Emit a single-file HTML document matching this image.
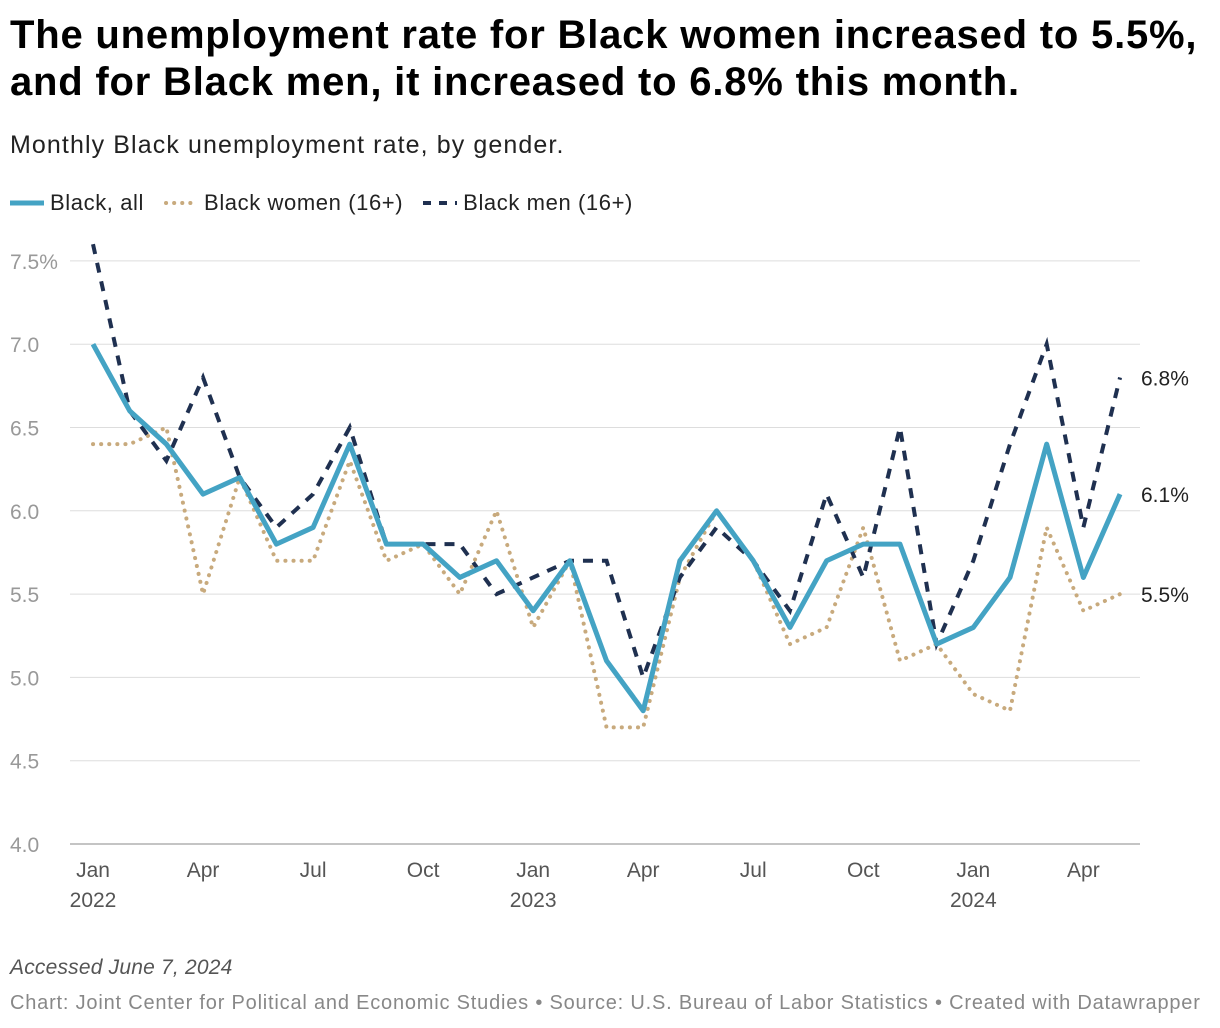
<!DOCTYPE html>
<html><head><meta charset="utf-8"><style>
body{margin:0;background:#fff;font-family:"Liberation Sans",sans-serif;width:1220px;height:1028px;overflow:hidden;position:relative}
h1{position:absolute;left:10px;top:12px;margin:0;font-size:40px;line-height:47px;font-weight:bold;color:#000;letter-spacing:0.8px;white-space:nowrap}
.sub{position:absolute;left:10px;top:131px;font-size:25px;color:#222;letter-spacing:1.1px}
.legend{position:absolute;left:10px;top:190px;font-size:22px;color:#222;display:flex;gap:20px;align-items:center;letter-spacing:0.6px}
.legend span{display:flex;align-items:center;gap:6px}
.foot1{position:absolute;left:10px;top:956px;font-size:21px;font-style:italic;color:#555;letter-spacing:0.2px}
.foot2{position:absolute;left:10px;top:992px;font-size:20px;color:#888;letter-spacing:0.8px;white-space:nowrap}
</style></head><body>
<h1>The unemployment rate for Black women increased to 5.5%,<br>and for Black men, it increased to 6.8% this month.</h1>
<div class="sub">Monthly Black unemployment rate, by gender.</div>
<div class="legend">
<span><svg width="34" height="8"><line x1="0" y1="4" x2="34" y2="4" stroke="#44a3c4" stroke-width="5"/></svg>Black, all</span>
<span><svg width="34" height="8"><line x1="2" y1="4" x2="34" y2="4" stroke="#c8aa7d" stroke-width="4" stroke-dasharray="0.1 8" stroke-linecap="round"/></svg>Black women (16+)</span>
<span><svg width="34" height="8"><line x1="0" y1="4" x2="34" y2="4" stroke="#1f3050" stroke-width="4" stroke-dasharray="8 8"/></svg>Black men (16+)</span>
</div>
<svg id="chart" width="1220" height="1028" style="position:absolute;left:0;top:0"></svg>
<div class="foot1">Accessed June 7, 2024</div>
<div class="foot2">Chart: Joint Center for Political and Economic Studies • Source: U.S. Bureau of Labor Statistics • Created with Datawrapper</div>
<script>
const yTicks=[4.0,4.5,5.0,5.5,6.0,6.5,7.0,7.5];
const xTickMonths=[0,3,6,9,12,15,18,21,24,27];
const xTickLabels=["Jan","Apr","Jul","Oct","Jan","Apr","Jul","Oct","Jan","Apr"];
const xTickYears={0:"2022",12:"2023",24:"2024"};
const allRate=[7.0,6.6,6.4,6.1,6.2,5.8,5.9,6.4,5.8,5.8,5.6,5.7,5.4,5.7,5.1,4.8,5.7,6.0,5.7,5.3,5.7,5.8,5.8,5.2,5.3,5.6,6.4,5.6,6.1];
const womenRate=[6.4,6.4,6.5,5.5,6.2,5.7,5.7,6.3,5.7,5.8,5.5,6.0,5.3,5.7,4.7,4.7,5.6,6.0,5.7,5.2,5.3,5.9,5.1,5.2,4.9,4.8,5.9,5.4,5.5];
const menRate=[7.6,6.6,6.3,6.8,6.2,5.9,6.1,6.5,5.8,5.8,5.8,5.5,5.6,5.7,5.7,5.0,5.6,5.9,5.7,5.4,6.1,5.6,6.5,5.2,5.7,6.4,7.0,5.9,6.8];
const NS="http://www.w3.org/2000/svg",svg=document.getElementById('chart');
const x=m=>93+m*36.68, y=v=>844-(v-4)*166.6;
function el(t,a,p){const e=document.createElementNS(NS,t);for(const k in a)e.setAttribute(k,a[k]);(p||svg).appendChild(e);return e;}
yTicks.forEach((v,i)=>{
 const g=el('line',{x1:70,x2:1140,y1:y(v),y2:y(v),stroke:v===4?'#888':'#ddd','stroke-width':1});
 
 
 const t=el('text',{x:10,y:y(v)+8,'font-size':21,fill:'#999','font-family':'Liberation Sans'});
 t.textContent=v.toFixed(1)+(i===yTicks.length-1?'%':'');
 
 
});
xTickMonths.forEach((m,i)=>{
 const t=el('text',{x:x(m),y:877,'font-size':21,fill:'#555','text-anchor':'middle','font-family':'Liberation Sans'});
 t.textContent=xTickLabels[i];
 
 
 if(xTickYears[m]){const u=el('text',{x:x(m),y:907,'font-size':21,fill:'#555','text-anchor':'middle','font-family':'Liberation Sans'});u.textContent=xTickYears[m];
 
 }
});
function line(data,attrs,name){
 const p=el('polyline',Object.assign({points:data.map((v,i)=>x(i)+','+y(v)).join(' '),fill:'none'},attrs));
 
 
 const last=data.length-1;
 const t=el('text',{x:1141,y:y(data[last])+8,'font-size':21,fill:'#222','font-family':'Liberation Sans'});
 t.textContent=data[last].toFixed(1)+'%';
 
 
}
line(womenRate,{stroke:'#c8aa7d','stroke-width':4,'stroke-dasharray':'0.1 8','stroke-linecap':'round'},'line-women');
line(menRate,{stroke:'#1f3050','stroke-width':4,'stroke-dasharray':'10 9'},'line-men');
line(allRate,{stroke:'#44a3c4','stroke-width':5,'stroke-linejoin':'round'},'line-all');
</script>
</body></html>
